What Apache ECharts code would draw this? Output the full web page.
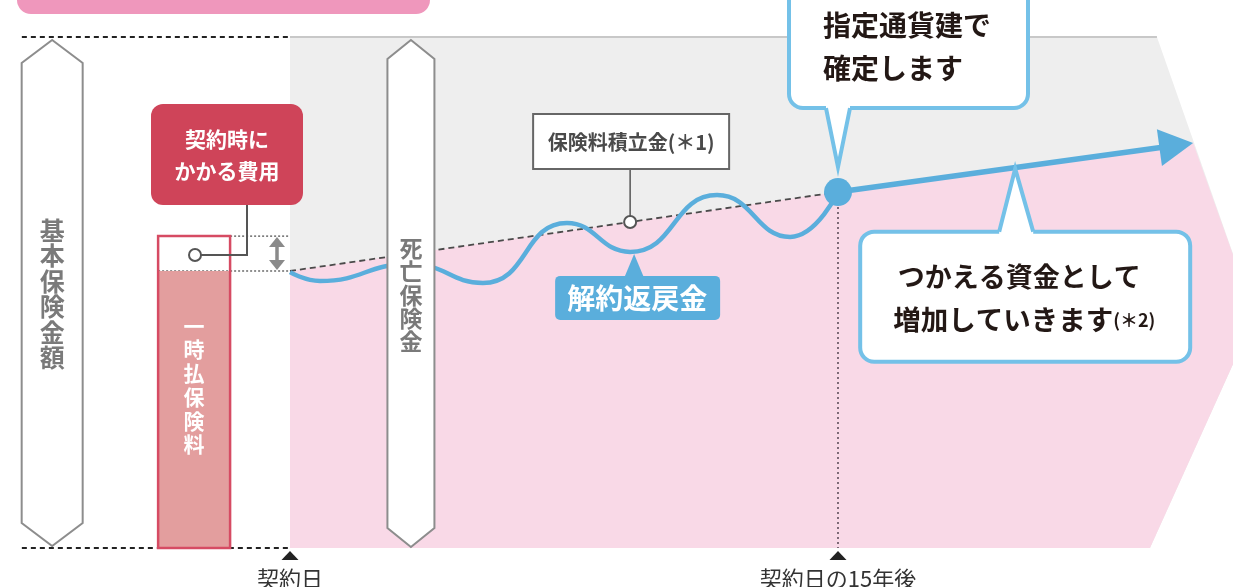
<!DOCTYPE html>
<html>
<head>
<meta charset="utf-8">
<title>解約返戻金のしくみ</title>
<script src="https://cdn.jsdelivr.net/npm/echarts@6/dist/echarts.min.js"></script>
<style>
  html, body { margin: 0; padding: 0; background: #fff; }
  #chart { width: 1233px; height: 587px; }
</style>
</head>
<body>
<div id="chart"></div>
<script>
// x = years from the contract date, y = amount (single premium = 100)

// cancellation refund (wavy line)
const waveYears  = [0, 0.82, 3.28, 5.28, 7.58, 9.31, 11.69, 13.69, 15];
const waveValues = [99.6, 96.4, 102.5, 95.7, 117.3, 106.9, 127.4, 112.3, 128.5];

// premium reserve (dashed line) and fixed amount afterwards (arrow)
const reserveYears  = [0, 15];
const reserveValues = [100, 128.5];
const growthYears  = [15, 24.72];
const growthValues = [128.5, 146.2];

const singlePremium = 100;
const initialCost = 12.6;
const basicAmount = 184.5;

// outline of the background panel to the right
const panelEdgeYears  = [23.73, 26.41, 23.54];
const panelEdgeValues = [184.5, 83.75, 0];

// points the labels hang on
const reserveMark = [9.31, 117.7];
const refundMark = [9.31, 106.9];
const growthMark = [19.85, 137.3];
const costMark = [-2.6, 105.8];

const timeTicks = [0, 15];
const timeLabels = ['契約日', '契約日の15年後'];

const FONT = '"Noto Sans CJK JP", "Noto Sans", sans-serif';
const BLUE = '#5aaedc';
const CALLOUT = '#74c1e8';

const chart = echarts.init(document.getElementById('chart'), null, { renderer: 'canvas' });

function txt(x, y, text, size, color, extra) {
    return {
        type: 'text', x: x, y: y,
        style: Object.assign({
            text: text, fill: color, fontSize: size, fontFamily: FONT, fontWeight: 'bold',
            align: 'center', verticalAlign: 'middle'
        }, extra || {})
    };
}

// rounded box with a pointer, pointer goes down (dir 1) or up (dir -1)
function callout(x1, y1, x2, y2, bl, br, tip, dir) {
    const by = dir > 0 ? y2 : y1;
    return [
        { type: 'rect', shape: { x: x1, y: y1, width: x2 - x1, height: y2 - y1, r: 14 },
          style: { fill: '#fff', stroke: CALLOUT, lineWidth: 4 } },
        { type: 'polygon', shape: { points: [[bl, by], tip, [br, by]] }, style: { fill: '#fff' } },
        { type: 'rect', shape: { x: bl, y: by - 3, width: br - bl, height: 6 }, style: { fill: '#fff' } },
        { type: 'polyline', shape: { points: [[bl, by], tip, [br, by]] },
          style: { stroke: CALLOUT, lineWidth: 4, fill: null, lineJoin: 'miter' } }
    ];
}

function panels(params, api) {
    const P = (x, y) => api.coord([x, y]);
    const grayPts = [P(0, basicAmount)]
        .concat(panelEdgeYears.map((x, i) => P(x, panelEdgeValues[i])))
        .concat([P(0, 0)]);
    const pinkPts = reserveYears.map((x, i) => P(x, reserveValues[i]))
        .concat([P(growthYears[1], growthValues[1])])
        .concat(panelEdgeYears.slice(1).map((x, i) => P(x, panelEdgeValues[i + 1])))
        .concat([P(0, 0)]);
    const left = P(-7.34, 0)[0];
    const start = P(0, 0);
    const top = P(0, basicAmount)[1];
    const barLeft = P(-3.61, 0)[0];
    const yPrem = P(0, singlePremium)[1];
    const yCost = P(0, singlePremium + initialCost)[1];
    const fix = P(15, reserveValues[1]);
    return {
        type: 'group',
        children: [
            { type: 'polygon', shape: { points: grayPts }, style: { fill: '#eeeeee' } },
            { type: 'line', shape: { x1: start[0], y1: top, x2: P(panelEdgeYears[0], 0)[0], y2: top },
              style: { stroke: '#c8c8c8', lineWidth: 2 } },
            { type: 'polygon', shape: { points: pinkPts }, style: { fill: '#f9d9e7' } },
            { type: 'line', shape: { x1: left, y1: top, x2: start[0], y2: top },
              style: { stroke: '#222', lineWidth: 2, lineDash: [5, 4] } },
            { type: 'line', shape: { x1: left, y1: start[1], x2: start[0], y2: start[1] },
              style: { stroke: '#222', lineWidth: 2, lineDash: [5, 4] } },
            { type: 'line', shape: { x1: barLeft, y1: yCost, x2: start[0], y2: yCost },
              style: { stroke: '#222', lineWidth: 1, lineDash: [2, 2] } },
            { type: 'line', shape: { x1: barLeft, y1: yPrem, x2: start[0], y2: yPrem },
              style: { stroke: '#222', lineWidth: 1, lineDash: [2, 2] } },
            { type: 'line', shape: { x1: fix[0], y1: fix[1], x2: fix[0], y2: start[1] },
              style: { stroke: '#5f4f5b', lineWidth: 1.6, lineDash: [2, 3] } }
        ]
    };
}

function growthArrow(params, api) {
    const a = api.coord([growthYears[0], growthValues[0]]);
    const b = api.coord([growthYears[1], growthValues[1]]);
    const dx = b[0] - a[0], dy = b[1] - a[1];
    const len = Math.hypot(dx, dy), ux = dx / len, uy = dy / len;
    const headL = 34, headW = 18.5;
    const c = [b[0] - ux * headL, b[1] - uy * headL];
    return {
        type: 'group',
        children: [
            { type: 'line', shape: { x1: a[0], y1: a[1], x2: c[0] + ux * 3, y2: c[1] + uy * 3 },
              style: { stroke: BLUE, lineWidth: 5.5 } },
            { type: 'polygon',
              shape: { points: [b, [c[0] - uy * headW, c[1] + ux * headW], [c[0] + uy * headW, c[1] - ux * headW]] },
              style: { fill: BLUE } }
        ]
    };
}

function overlay(params, api) {
    const P = (x, y) => api.coord([x, y]);
    const kids = [];
    const base = P(0, 0)[1];
    const top = P(0, basicAmount)[1];

    // header band (cut off at the top)
    kids.push({ type: 'rect', shape: { x: 17, y: -30, width: 413, height: 44, r: 14 }, style: { fill: '#ef97bc' } });

    // arrow-ended columns
    function column(x, half, tIn, tSh, bIn, bSh) {
        const cx = P(x, 0)[0];
        return { type: 'polygon',
            shape: { points: [[cx, top + tIn], [cx + half, top + tSh], [cx + half, base - bSh],
                              [cx, base - bIn], [cx - half, base - bSh], [cx - half, top + tSh]] },
            style: { fill: '#fff', stroke: '#8d8d8d', lineWidth: 2 } };
    }
    const basicX = P(-6.51, 0)[0], deathX = P(3.31, 0)[0];
    kids.push(column(-6.51, 30.5, 3, 26, 2, 25));
    kids.push(txt(basicX, 294, '基\n本\n保\n険\n金\n額', 25, '#7a7a7a', { lineHeight: 25.5 }));
    kids.push(column(3.31, 23.5, 3, 22, 1, 20));
    kids.push(txt(deathX, 295, '死\n亡\n保\n険\n金', 23, '#7a7a7a', { lineHeight: 23.3 }));

    // single premium bar with the initial cost on top
    const bx1 = P(-3.61, 0)[0], bx2 = P(-1.64, 0)[0];
    const yPrem = P(0, singlePremium)[1];
    const yCost = P(0, singlePremium + initialCost)[1];
    kids.push({ type: 'rect', shape: { x: bx1, y: yPrem, width: bx2 - bx1, height: base - yPrem }, style: { fill: '#e39e9e' } });
    kids.push({ type: 'rect', shape: { x: bx1, y: yCost, width: bx2 - bx1, height: base - yCost },
        style: { fill: null, stroke: '#d64b63', lineWidth: 2.5 } });
    kids.push(txt((bx1 + bx2) / 2, 385, '一\n時\n払\n保\n険\n料', 21, '#fff', { lineHeight: 23.7 }));

    // initial cost label
    const cm = P(costMark[0], costMark[1]);
    kids.push({ type: 'rect', shape: { x: 151, y: 104, width: 152, height: 101, r: 12 }, style: { fill: '#cf4459' } });
    kids.push(txt(227, 155, '契約時に\nかかる費用', 21, '#fff', { lineHeight: 32 }));
    kids.push({ type: 'polyline', shape: { points: [[cm[0] + 6, cm[1]], [247, cm[1]], [247, 205]] },
        style: { stroke: '#555', lineWidth: 2, fill: null } });
    kids.push({ type: 'circle', shape: { cx: cm[0], cy: cm[1], r: 6 }, style: { fill: '#fff', stroke: '#555', lineWidth: 2 } });

    // double arrow for the cost height
    const ax = 277;
    kids.push({ type: 'line', shape: { x1: ax, y1: yCost + 8, x2: ax, y2: yPrem - 8 }, style: { stroke: '#8a8a8a', lineWidth: 3.5 } });
    kids.push({ type: 'polygon', shape: { points: [[ax, yCost + 1], [ax - 8, yCost + 11], [ax + 8, yCost + 11]] }, style: { fill: '#8a8a8a' } });
    kids.push({ type: 'polygon', shape: { points: [[ax, yPrem - 1], [ax - 8, yPrem - 11], [ax + 8, yPrem - 11]] }, style: { fill: '#8a8a8a' } });

    // premium reserve label
    const rm = P(reserveMark[0], reserveMark[1]);
    kids.push({ type: 'line', shape: { x1: rm[0], y1: rm[1] - 53, x2: rm[0], y2: rm[1] - 6 }, style: { stroke: '#555', lineWidth: 1.5 } });
    kids.push({ type: 'rect', shape: { x: rm[0] - 97, y: rm[1] - 108, width: 196, height: 55 },
        style: { fill: '#fff', stroke: '#666', lineWidth: 2 } });
    kids.push(txt(rm[0] + 1, rm[1] - 80, '保険料積立金(＊1)', 20, '#4a4a4a'));
    kids.push({ type: 'circle', shape: { cx: rm[0], cy: rm[1], r: 6 }, style: { fill: '#fff', stroke: '#555', lineWidth: 2 } });

    // cancellation refund label
    const rf = P(refundMark[0], refundMark[1]);
    kids.push({ type: 'polygon', shape: { points: [[rf[0] + 4, rf[1] + 2], [rf[0] - 6, rf[1] + 26], [rf[0] + 14, rf[1] + 26]] }, style: { fill: BLUE } });
    kids.push({ type: 'rect', shape: { x: rf[0] - 75, y: rf[1] + 24, width: 165, height: 44, r: 5 }, style: { fill: BLUE } });
    kids.push(txt(rf[0] + 7, rf[1] + 46, '解約返戻金', 28, '#fff'));

    // upper callout at the 15th year
    const fx = P(15, reserveValues[1]);
    callout(fx[0] - 49, -20, fx[0] + 190, fx[1] - 84, fx[0] - 12, fx[0] + 12, [fx[0], fx[1] - 25], 1)
        .forEach(e => kids.push(e));
    kids.push(txt(fx[0] - 15, 25, '指定通貨建で', 28, '#231815', { align: 'left' }));
    kids.push(txt(fx[0] - 15, 68, '確定します', 28, '#231815', { align: 'left' }));

    // lower callout on the growth arrow
    const g = P(growthMark[0], growthMark[1]);
    callout(g[0] - 155, g[1] + 64, g[0] + 175, g[1] + 194, g[0] - 16, g[0] + 18, [g[0], g[1] + 1], -1)
        .forEach(e => kids.push(e));
    kids.push(txt(g[0] + 4, g[1] + 109, 'つかえる資金として', 27, '#231815'));
    kids.push({ type: 'text', x: g[0] - 122, y: g[1] + 152,
        style: { text: '{a|増加していきます}{b|(＊2)}', align: 'left', verticalAlign: 'middle',
            rich: {
                a: { fontSize: 27.5, fontFamily: FONT, fontWeight: 'bold', fill: '#231815' },
                b: { fontSize: 18, fontFamily: FONT, fontWeight: 'bold', fill: '#231815' }
            } } });

    // time markers
    timeTicks.forEach((t, i) => {
        const x = P(t, 0)[0];
        kids.push({ type: 'polygon', shape: { points: [[x, base + 3], [x - 8.5, base + 12], [x + 8.5, base + 12]] }, style: { fill: '#222' } });
        kids.push(txt(x, base + 31, timeLabels[i], 22, '#333', { fontWeight: 'normal' }));
    });

    return { type: 'group', children: kids };
}

const option = {
    animation: false,
    grid: { left: 0, right: 0, top: 0, bottom: 0 },
    xAxis: { type: 'value', min: -7.938, max: 25.812, show: false },
    yAxis: { type: 'value', min: -14.08, max: 197.83, show: false },
    series: [
        { type: 'custom', name: 'panels', z: 1, silent: true, data: [[0, 0]], renderItem: panels },
        {
            type: 'line', name: '保険料積立金', z: 2, symbol: 'none', silent: true,
            data: reserveYears.map((x, i) => [x, reserveValues[i]]),
            lineStyle: { color: '#4a4a4a', width: 1.8, type: [6, 4] }
        },
        {
            type: 'line', name: '解約返戻金', z: 3, symbol: 'none', smooth: 0.5, silent: true,
            data: waveYears.map((x, i) => [x, waveValues[i]]),
            lineStyle: { color: BLUE, width: 4.5 }
        },
        { type: 'custom', name: 'growth', z: 3, silent: true, data: [[0, 0]], renderItem: growthArrow },
        { type: 'custom', name: 'overlay', z: 4, silent: true, data: [[0, 0]], renderItem: overlay },
        {
            type: 'scatter', name: 'fix', z: 5, silent: true, symbolSize: 28,
            data: [[growthYears[0], growthValues[0]]],
            itemStyle: { color: BLUE, opacity: 1 }
        }
    ]
};

chart.setOption(option);
</script>
</body>
</html>
